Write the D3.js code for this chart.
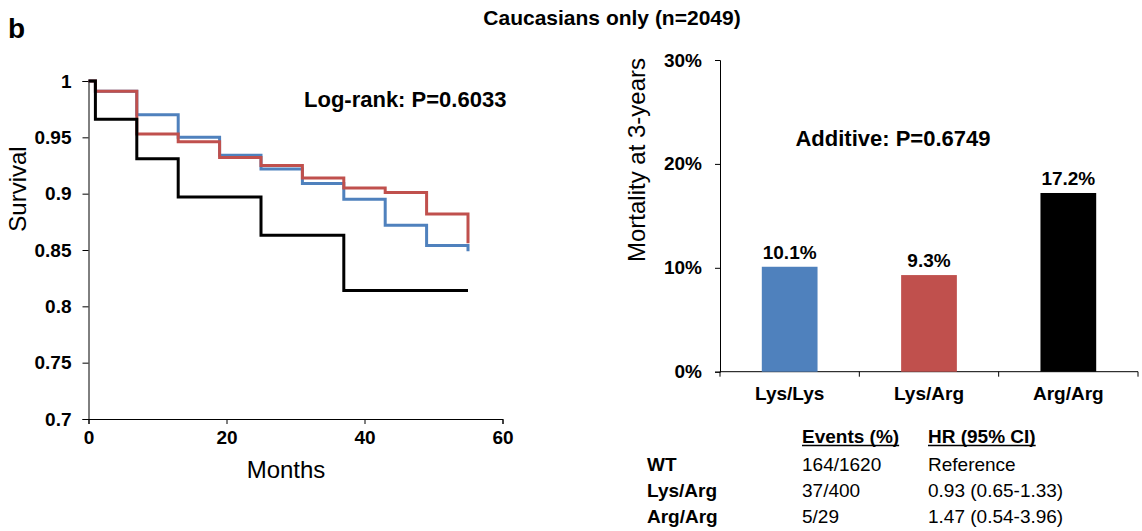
<!DOCTYPE html>
<html>
<head>
<meta charset="utf-8">
<script src="https://cdn.jsdelivr.net/npm/d3@7"></script>
<style>
  body { margin: 0; background: #fff; }
  svg { font-family: "Liberation Sans", Arial, sans-serif; }
</style>
</head>
<body>
<svg id="fig" width="1142" height="531"></svg>
<script>
// survival curves (months, survival)
const kmMonths = [0, 1, 7, 13, 19, 25, 31, 37, 43, 49, 55]
const lysLys = [1, 0.991, 0.970, 0.950, 0.934, 0.922, 0.909, 0.895, 0.872, 0.854, 0.849]
const lysArg = [1, 0.991, 0.953, 0.946, 0.932, 0.925, 0.914, 0.905, 0.901, 0.882, 0.856]
const argMonths = [0, 1, 7, 13, 25, 37, 55]
const argArg = [1, 0.966, 0.931, 0.897, 0.863, 0.814, 0.814]

const kmXTicks = [0, 20, 40, 60]
const kmYTicks = [0.7, 0.75, 0.8, 0.85, 0.9, 0.95, 1]

// mortality bars
const genotypes = ["Lys/Lys", "Lys/Arg", "Arg/Arg"]
const mortality = [0.101, 0.093, 0.172]
const mortalityLabels = ["10.1%", "9.3%", "17.2%"]
const barYTicks = [0, 0.1, 0.2, 0.3]

// table below bar chart
const tableHead = ["Events (%)", "HR (95% CI)"]
const tableRows = ["WT", "Lys/Arg", "Arg/Arg"]
const tableEvents = ["164/1620", "37/400", "5/29"]
const tableHR = ["Reference", "0.93 (0.65-1.33)", "1.47 (0.54-3.96)"]

const blue = "#4f81bd", red = "#c0504d"
const svg = d3.select("#fig")

svg.append("text").attr("x", 8).attr("y", 38)
  .style("font-size", "28px").style("font-weight", "bold").text("b")
svg.append("text").attr("x", 612).attr("y", 25).attr("text-anchor", "middle")
  .style("font-size", "21px").style("font-weight", "bold").text("Caucasians only (n=2049)")

/* ---- Kaplan-Meier panel ---- */
const x = d3.scaleLinear().domain([0, 60]).range([88.5, 502.5])
const y = d3.scaleLinear().domain([0.7, 1]).range([419, 81])

const xAxis = svg.append("g").attr("transform", "translate(0,419)")
  .call(d3.axisBottom(x).tickValues(kmXTicks).tickSize(5).tickPadding(7))
const yAxis = svg.append("g").attr("transform", "translate(88.5,0)")
  .call(d3.axisLeft(y).tickValues(kmYTicks).tickSize(6).tickPadding(11).tickFormat(d => String(+d.toFixed(2))))
;[xAxis, yAxis].forEach(g => {
  g.select(".domain").attr("stroke", "#000")
  g.selectAll("text").style("font-size", "19px").style("font-weight", "bold").attr("fill", "#000")
})

const km = d3.line().x(d => x(d[0])).y(d => y(d[1])).curve(d3.curveStepAfter)
const curves = [
  { m: kmMonths, s: lysLys, c: blue },
  { m: kmMonths, s: lysArg, c: red },
  { m: argMonths, s: argArg, c: "#000" }
]
curves.forEach(cv => {
  svg.append("path").datum(cv.m.map((m, i) => [m, cv.s[i]]))
    .attr("d", km).attr("fill", "none").attr("stroke", cv.c).attr("stroke-width", 3)
})

svg.append("text").attr("x", 304).attr("y", 107)
  .style("font-size", "22px").style("font-weight", "bold").text("Log-rank: P=0.6033")
svg.append("text").attr("transform", "translate(26,189) rotate(-90)").attr("text-anchor", "middle")
  .style("font-size", "24px").text("Survival")
svg.append("text").attr("x", 286).attr("y", 478).attr("text-anchor", "middle")
  .style("font-size", "24px").text("Months")

/* ---- bar panel ---- */
const bx = d3.scaleBand().domain(genotypes).range([720, 1138]).paddingInner(0.6).paddingOuter(0.3)
const by = d3.scaleLinear().domain([0, 0.3]).range([371.7, 60])

const byAxis = svg.append("g").attr("transform", "translate(720,0)")
  .call(d3.axisLeft(by).tickValues(barYTicks).tickSize(5).tickPadding(13).tickFormat(d3.format(".0%")))
byAxis.select(".domain").attr("stroke", "#000")
byAxis.selectAll("text").style("font-size", "19px").style("font-weight", "bold")

const base = svg.append("g")
base.append("line").attr("x1", 720).attr("x2", 1138).attr("y1", 371.7).attr("y2", 371.7).attr("stroke", "#000")
const step = bx.step()
const bounds = genotypes.map(g => bx(g) + bx.bandwidth() / 2 - step / 2)
bounds.push(bx(genotypes[genotypes.length - 1]) + bx.bandwidth() / 2 + step / 2)
base.selectAll(".bt").data(bounds).enter().append("line")
  .attr("x1", d => d).attr("x2", d => d).attr("y1", 371.7).attr("y2", 376.7).attr("stroke", "#000")
base.selectAll(".bl").data(genotypes).enter().append("text")
  .attr("x", d => bx(d) + bx.bandwidth() / 2).attr("y", 400).attr("text-anchor", "middle")
  .style("font-size", "19px").style("font-weight", "bold").text(d => d)

const barColors = [blue, red, "#000"]
svg.selectAll(".bar").data(genotypes).enter().append("rect")
  .attr("x", d => bx(d)).attr("width", bx.bandwidth())
  .attr("y", (d, i) => by(mortality[i])).attr("height", (d, i) => by(0) - by(mortality[i]))
  .attr("fill", (d, i) => barColors[i])
svg.selectAll(".val").data(genotypes).enter().append("text")
  .attr("x", d => bx(d) + bx.bandwidth() / 2).attr("y", (d, i) => by(mortality[i]) - 8)
  .attr("text-anchor", "middle").style("font-size", "19px").style("font-weight", "bold")
  .text((d, i) => mortalityLabels[i])

svg.append("text").attr("x", 893).attr("y", 146).attr("text-anchor", "middle")
  .style("font-size", "22px").style("font-weight", "bold").text("Additive: P=0.6749")
svg.append("text").attr("transform", "translate(645,160) rotate(-90)").attr("text-anchor", "middle")
  .style("font-size", "24px").text("Mortality at 3-years")

/* ---- table ---- */
const colX = [802, 928]
tableHead.forEach((h, i) => {
  const t = svg.append("text").attr("x", colX[i]).attr("y", 443)
    .style("font-size", "19px").style("font-weight", "bold").text(h)
  const w = t.node().getComputedTextLength()
  svg.append("line").attr("x1", colX[i]).attr("x2", colX[i] + w).attr("y1", 445.5).attr("y2", 445.5)
    .attr("stroke", "#000").attr("stroke-width", 1.5)
})
tableRows.forEach((r, i) => {
  const yy = 470.5 + i * 26.3
  svg.append("text").attr("x", 647).attr("y", yy).style("font-size", "19px").style("font-weight", "bold").text(r)
  svg.append("text").attr("x", colX[0]).attr("y", yy).style("font-size", "19px").text(tableEvents[i])
  svg.append("text").attr("x", colX[1]).attr("y", yy).style("font-size", "19px").text(tableHR[i])
})
</script>
</body>
</html>
